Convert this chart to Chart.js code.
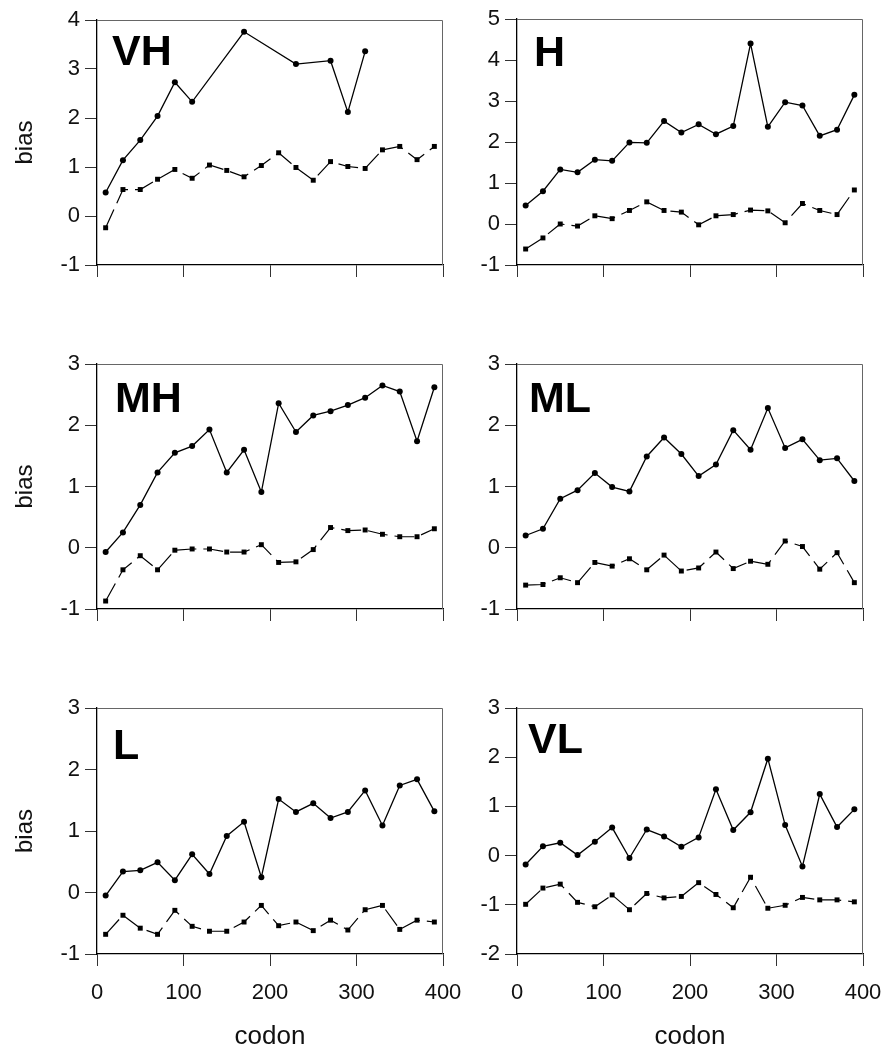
<!DOCTYPE html>
<html>
<head>
<meta charset="utf-8">
<script src="https://cdn.jsdelivr.net/npm/chart.js@4.4.1/dist/chart.umd.min.js"></script>
<style>
  body { margin: 0; background: #fff; width: 882px; height: 1050px; position: relative; overflow: hidden;
         font-family: "Liberation Sans", Arial, sans-serif; }
  .panel { position: absolute; }
  .tag { position: absolute; font-weight: bold; font-size: 43px; line-height: 1; color: #000; }
</style>
</head>
<body>
<script>
// codon positions (window centres)
const codons = [10, 30, 50, 70, 90, 110, 130, 150, 170, 190, 210, 230, 250, 270, 290, 310, 330, 350, 370, 390];
const vhSolidCodons = [10, 30, 50, 70, 90, 110, 170, 230, 270, 290, 310];

// bias values, solid line (circles) and dashed line (squares)
const vhSolid  = [0.48, 1.14, 1.55, 2.04, 2.73, 2.33, 3.76, 3.10, 3.17, 2.12, 3.36];
const vhDashed = [-0.24, 0.54, 0.54, 0.75, 0.95, 0.77, 1.04, 0.93, 0.80, 1.03, 1.29, 0.99, 0.73, 1.11, 1.01, 0.97, 1.35, 1.42, 1.15, 1.42];
const hSolid   = [0.45, 0.80, 1.33, 1.26, 1.57, 1.54, 1.99, 1.98, 2.51, 2.23, 2.43, 2.19, 2.39, 4.40, 2.37, 2.97, 2.89, 2.15, 2.30, 3.15];
const hDashed  = [-0.61, -0.34, 0.00, -0.05, 0.20, 0.13, 0.33, 0.54, 0.33, 0.29, -0.02, 0.20, 0.23, 0.34, 0.32, 0.03, 0.50, 0.33, 0.23, 0.83];
const mhSolid  = [-0.07, 0.25, 0.70, 1.23, 1.55, 1.66, 1.93, 1.23, 1.60, 0.91, 2.36, 1.89, 2.16, 2.23, 2.33, 2.45, 2.65, 2.55, 1.74, 2.62];
const mhDashed = [-0.87, -0.36, -0.13, -0.36, -0.04, -0.02, -0.02, -0.07, -0.07, 0.05, -0.24, -0.23, -0.03, 0.33, 0.28, 0.29, 0.22, 0.18, 0.18, 0.31];
const mlSolid  = [0.20, 0.31, 0.80, 0.94, 1.22, 0.99, 0.92, 1.49, 1.80, 1.53, 1.17, 1.36, 1.92, 1.60, 2.28, 1.63, 1.77, 1.43, 1.46, 1.09];
const mlDashed = [-0.61, -0.60, -0.49, -0.57, -0.24, -0.30, -0.18, -0.36, -0.12, -0.38, -0.33, -0.07, -0.34, -0.22, -0.27, 0.11, 0.02, -0.35, -0.08, -0.57];
const lSolid   = [-0.05, 0.34, 0.36, 0.49, 0.20, 0.62, 0.30, 0.92, 1.15, 0.25, 1.52, 1.31, 1.45, 1.21, 1.31, 1.66, 1.09, 1.74, 1.84, 1.32];
const lDashed  = [-0.68, -0.37, -0.58, -0.68, -0.29, -0.55, -0.63, -0.63, -0.48, -0.21, -0.54, -0.48, -0.62, -0.45, -0.61, -0.28, -0.21, -0.60, -0.45, -0.48];
const vlSolid  = [-0.18, 0.19, 0.26, 0.01, 0.28, 0.57, -0.05, 0.53, 0.39, 0.18, 0.37, 1.35, 0.52, 0.88, 1.97, 0.62, -0.22, 1.25, 0.58, 0.94];
const vlDashed = [-0.99, -0.66, -0.58, -0.95, -1.04, -0.80, -1.10, -0.77, -0.86, -0.83, -0.55, -0.79, -1.06, -0.44, -1.07, -1.01, -0.85, -0.90, -0.90, -0.94];

const xTicks = [0, 100, 200, 300, 400];

// layout: plot area box of each panel + where the big tag sits
const panels = [
  { tag: "VH", l: 97,  t: 20,  h: 245, yMin: -1, yMax: 4, solidX: vhSolidCodons, solid: vhSolid, dashed: vhDashed, left: true,  bottom: false, tagX: 112, tagY: 29 },
  { tag: "H",  l: 517, t: 19,  h: 246, yMin: -1, yMax: 5, solidX: codons, solid: hSolid,  dashed: hDashed,  left: false, bottom: false, tagX: 534, tagY: 30 },
  { tag: "MH", l: 97,  t: 364, h: 245, yMin: -1, yMax: 3, solidX: codons, solid: mhSolid, dashed: mhDashed, left: true,  bottom: false, tagX: 115, tagY: 376 },
  { tag: "ML", l: 517, t: 364, h: 245, yMin: -1, yMax: 3, solidX: codons, solid: mlSolid, dashed: mlDashed, left: false, bottom: false, tagX: 529, tagY: 376 },
  { tag: "L",  l: 97,  t: 708, h: 246, yMin: -1, yMax: 3, solidX: codons, solid: lSolid,  dashed: lDashed,  left: true,  bottom: true,  tagX: 113, tagY: 723 },
  { tag: "VL", l: 517, t: 708, h: 246, yMin: -2, yMax: 3, solidX: codons, solid: vlSolid, dashed: vlDashed, left: false, bottom: true,  tagX: 528, tagY: 717 }
];

const PLOT_W = 346, AXW = 95, PADT = 25, PADR = 40;
const FONT = '"Liberation Sans", Arial, sans-serif';
const INK = "#111";

// thin frame on top/right of the plot area
const framePlugin = {
  id: "frame",
  beforeDatasetsDraw(chart) {
    const { ctx, chartArea: a } = chart;
    ctx.save();
    ctx.strokeStyle = "#666";
    ctx.lineWidth = 1;
    ctx.beginPath();
    ctx.moveTo(a.left, a.top + 0.5);
    ctx.lineTo(a.right - 0.5, a.top + 0.5);
    ctx.lineTo(a.right - 0.5, a.bottom);
    ctx.stroke();
    ctx.restore();
  }
};

panels.forEach((p) => {
  const axh = p.bottom ? 1050 - (p.t + p.h) : 20;
  const div = document.createElement("div");
  div.className = "panel";
  const w = AXW + PLOT_W + PADR;
  const h = PADT + p.h + axh;
  div.style.left = (p.l - AXW) + "px";
  div.style.top = (p.t - PADT) + "px";
  div.innerHTML = `<canvas width="${w}" height="${h}" style="width:${w}px;height:${h}px"></canvas>`;
  document.body.appendChild(div);

  const tag = document.createElement("div");
  tag.className = "tag";
  tag.textContent = p.tag;
  tag.style.left = p.tagX + "px";
  tag.style.top = p.tagY + "px";
  document.body.appendChild(tag);

  const solidPts = p.solidX.map((x, i) => ({ x, y: p.solid[i] }));
  const dashedPts = codons.map((x, i) => ({ x, y: p.dashed[i] }));

  new Chart(div.querySelector("canvas"), {
    type: "line",
    data: {
      datasets: [
        {
          data: solidPts,
          borderColor: "#000",
          borderWidth: 1.3,
          pointStyle: "circle",
          pointRadius: 3,
          pointBackgroundColor: "#000",
          pointBorderWidth: 0
        },
        {
          data: dashedPts,
          borderColor: "#000",
          borderWidth: 1.2,
          borderDash: [20, 7],
          pointStyle: "rect",
          pointRadius: 3.5,
          pointBackgroundColor: "#000",
          pointBorderWidth: 0
        }
      ]
    },
    options: {
      responsive: false,
      animation: false,
      layout: { padding: { left: 0, top: PADT, right: PADR, bottom: 0 } },
      plugins: { legend: { display: false }, tooltip: { enabled: false } },
      scales: {
        x: {
          type: "linear",
          min: 0,
          max: 400,
          afterBuildTicks: (s) => { s.ticks = xTicks.map((v) => ({ value: v })); },
          ticks: { display: p.bottom, padding: 14, color: INK, font: { family: FONT, size: 22 } },
          grid: { drawOnChartArea: false, tickLength: 12, color: "#333", lineWidth: 1 },
          border: { color: "#000", width: 1.3 },
          title: { display: p.bottom, text: "codon", color: INK, font: { family: FONT, size: 26, lineHeight: 1 }, padding: { top: 0, bottom: 0 } },
          afterFit: (s) => { s.height = axh; }
        },
        y: {
          min: p.yMin,
          max: p.yMax,
          ticks: { stepSize: 1, padding: 5, color: INK, font: { family: FONT, size: 22 } },
          grid: { drawOnChartArea: false, tickLength: 12, color: "#333", lineWidth: 1 },
          border: { color: "#000", width: 1.3 },
          title: { display: p.left, text: "bias", color: INK, font: { family: FONT, size: 24, lineHeight: 1 }, padding: { top: 11, bottom: 0 } },
          afterFit: (s) => { s.width = AXW; }
        }
      }
    },
    plugins: [framePlugin]
  });
});
</script>
</body>
</html>
